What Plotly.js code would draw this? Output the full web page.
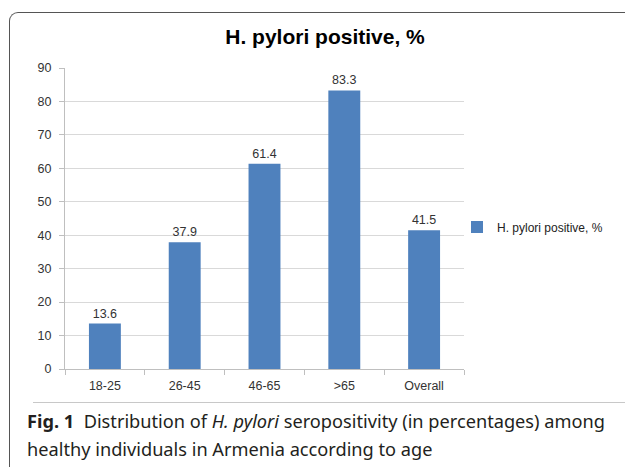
<!DOCTYPE html>
<html>
<head>
<meta charset="utf-8">
<script src="https://cdn.plot.ly/plotly-3.0.1.min.js"></script>
<style>
  html, body { margin: 0; padding: 0; background: #fff; }
  #wrap { position: relative; width: 625px; height: 467px; overflow: hidden; }
  #chart { position: absolute; left: 0; top: 0; width: 625px; height: 467px; }
  #frame { position: absolute; left: 9px; top: 12px; width: 700px; height: 520px;
           border-left: 1.5px solid #555; border-top: 1.5px solid #555;
           border-top-left-radius: 9px; pointer-events: none; }
  #sep { position: absolute; left: 33px; top: 402px; width: 600px; height: 0;
         border-top: 1px solid #c8c8c8; pointer-events: none; }
</style>
</head>
<body>
<div id="wrap">
  <div id="chart"></div>
  <div id="frame"></div>
  <div id="sep"></div>
</div>
<script>
const categories = ['18-25', '26-45', '46-65', '>65', 'Overall'];
const positivePct = [13.6, 37.9, 61.4, 83.3, 41.5];
const seriesName = 'H. pylori positive, %';
const chartTitle = 'H. pylori positive, %';
const captionLine1 = '<b>Fig. 1</b>\u00A0\u00A0Distribution of <i>H. pylori</i> seropositivity (in percentages) among';
const captionLine2 = 'healthy individuals in Armenia according to age';

const axisFont = { family: 'Liberation Sans, Arial, sans-serif', size: 12.5, color: '#333' };

const trace = {
  type: 'bar',
  x: categories,
  y: positivePct,
  name: seriesName,
  marker: { color: '#4F81BD' },
  text: positivePct.map(v => v.toFixed(1)),
  textposition: 'outside',
  textfont: { family: 'Liberation Sans, Arial, sans-serif', size: 12.5, color: '#333' },
  cliponaxis: false,
  hoverinfo: 'x+y',
  showlegend: true
};

const W = 625, H = 467;
const plotL = 65, plotR = 464, plotT = 67.7, plotB = 369.3;
const px2x = p => (p - plotL) / (plotR - plotL);
const py2y = p => (plotB - p) / (plotB - plotT);

const layout = {
  width: W, height: H,
  margin: { l: plotL, r: W - plotR, t: plotT, b: H - plotB, pad: 0, autoexpand: false },
  paper_bgcolor: 'rgba(0,0,0,0)',
  plot_bgcolor: 'rgba(0,0,0,0)',
  font: axisFont,
  title: {
    text: '<b>' + chartTitle + '</b>',
    font: { family: 'Liberation Sans, Arial, sans-serif', size: 21, color: '#000' },
    xref: 'container', x: 325 / W, xanchor: 'center',
    yref: 'container', y: 1 - 37 / H, yanchor: 'middle'
  },
  bargap: 0.6,
  xaxis: {
    type: 'category',
    showline: true, linecolor: '#bfbfbf', linewidth: 1,
    ticks: 'outside', tickson: 'boundaries', ticklen: 5, tickcolor: '#bfbfbf',
    showgrid: false, zeroline: false, automargin: false,
    tickfont: axisFont, ticklabelstandoff: 5
  },
  yaxis: {
    range: [0, 90], dtick: 10, tick0: 0,
    showline: true, linecolor: '#bfbfbf', linewidth: 1,
    ticks: 'outside', ticklen: 5, tickcolor: '#bfbfbf',
    gridcolor: '#d9d9d9', gridwidth: 1, zeroline: false, automargin: false,
    tickfont: axisFont, ticklabelstandoff: 5
  },
  showlegend: true,
  legend: {
    x: px2x(457), xanchor: 'left',
    y: py2y(227), yanchor: 'middle',
    font: { family: 'Liberation Sans, Arial, sans-serif', size: 12, color: '#222' },
    bgcolor: 'rgba(0,0,0,0)', itemwidth: 30
  },
  annotations: [
    { text: captionLine1, xref: 'paper', yref: 'paper',
      x: px2x(25), y: py2y(421), xanchor: 'left', yanchor: 'middle',
      showarrow: false, align: 'left',
      font: { family: 'Noto Sans, Open Sans, sans-serif', size: 18.2, color: '#231f20' } },
    { text: captionLine2, xref: 'paper', yref: 'paper',
      x: px2x(25), y: py2y(449), xanchor: 'left', yanchor: 'middle',
      showarrow: false, align: 'left',
      font: { family: 'Noto Sans, Open Sans, sans-serif', size: 18.2, color: '#231f20' } }
  ]
};

Plotly.newPlot('chart', [trace], layout, { displayModeBar: false, staticPlot: true });
</script>
</body>
</html>
